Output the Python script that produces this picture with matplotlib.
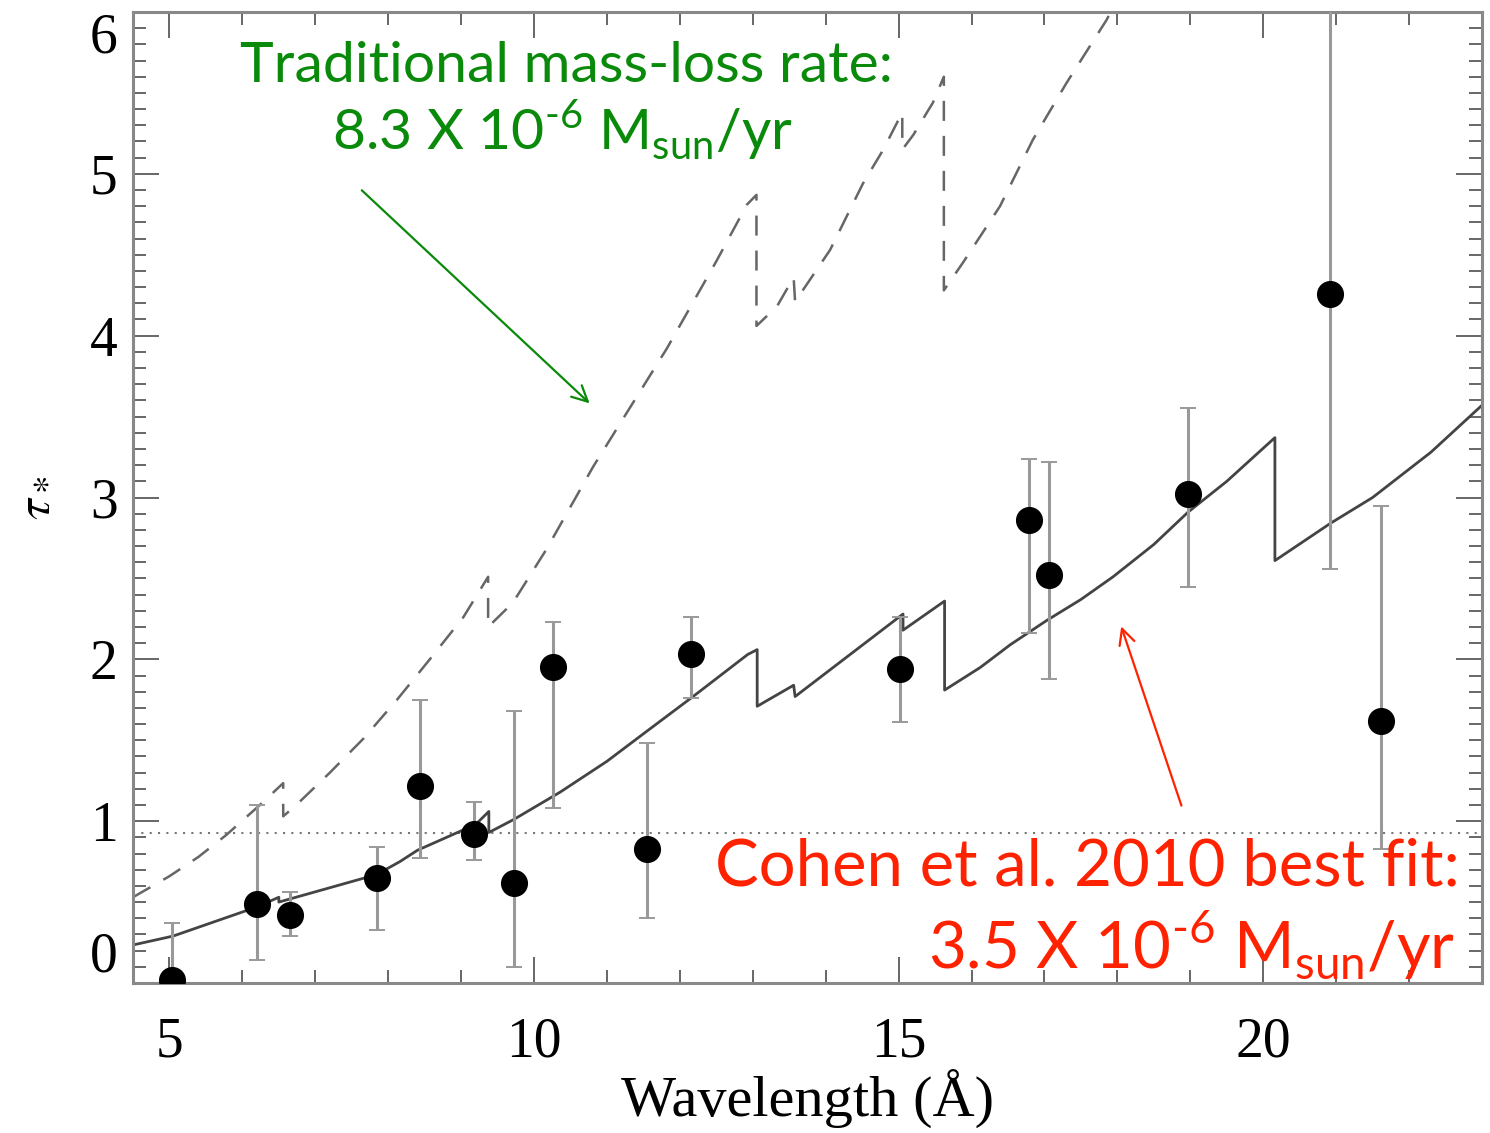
import matplotlib
matplotlib.use("Agg")
import matplotlib.pyplot as plt
from matplotlib.ticker import MultipleLocator

plt.rcParams["mathtext.fontset"] = "custom"
plt.rcParams["mathtext.rm"] = "Lato"

# -------------------------
# Data
# -------------------------
# measured line optical depths with (asymmetric) error bars
wave = [5.03, 6.20, 6.65, 7.85, 8.43, 9.18, 9.72, 10.26, 11.55, 12.15,
        15.02, 16.79, 17.06, 18.97, 20.92, 21.61]
tau = [0.02, 0.49, 0.42, 0.65, 1.22, 0.92, 0.62, 1.95, 0.83, 2.03,
       1.94, 2.86, 2.52, 3.02, 4.26, 1.62]
tau_upper = [0.37, 1.10, 0.56, 0.84, 1.75, 1.12, 1.68, 2.23, 1.48, 2.26,
             2.26, 3.24, 3.22, 3.55, 6.60, 2.95]
tau_lower = [-0.30, 0.14, 0.29, 0.33, 0.77, 0.76, 0.10, 1.08, 0.40, 1.76,
             1.61, 2.16, 1.88, 2.45, 2.56, 0.83]

# best-fit model (solid), repeated x = absorption edge
model_wave = [4.5, 5.05, 6.2, 6.5, 6.5, 7.84, 8.16, 8.4, 9.2, 9.38, 9.38,
              9.72, 10.36, 11.0, 11.5, 12.18, 12.93, 13.06, 13.06, 13.56,
              13.58, 15.06, 15.06, 15.63, 15.63, 16.12, 16.53, 17.03, 17.5,
              17.94, 18.5, 18.97, 19.5, 20.16, 20.16, 20.92, 21.5, 22.3, 23.0]
model_tau = [0.235, 0.29, 0.47, 0.53, 0.50, 0.67, 0.75, 0.82, 0.98, 1.06, 0.93,
             1.01, 1.18, 1.37, 1.54, 1.77, 2.03, 2.06, 1.71, 1.84,
             1.77, 2.28, 2.18, 2.36, 1.81, 1.95, 2.09, 2.24, 2.37,
             2.51, 2.71, 2.91, 3.10, 3.37, 2.61, 2.84, 3.00, 3.28, 3.57]

# traditional mass-loss rate model (dashed)
trad_wave = [4.5, 5.0, 5.4, 5.78, 6.24, 6.56, 6.56, 6.74, 7.2, 7.66, 8.12, 8.57,
             9.03, 9.37, 9.37, 9.71, 10.17, 10.81, 11.82, 12.5, 12.92, 13.05,
             13.05, 13.33, 13.56, 13.58, 14.06, 14.51, 14.79, 15.05, 15.05,
             15.2, 15.47, 15.62, 15.62, 15.88, 16.39, 16.84, 17.3, 17.85, 18.0]
trad_tau = [0.53, 0.66, 0.78, 0.915, 1.10, 1.235, 1.03, 1.10, 1.30, 1.51, 1.75, 2.00,
            2.26, 2.51, 2.20, 2.35, 2.68, 3.19, 3.92, 4.46, 4.81, 4.87,
            4.06, 4.18, 4.36, 4.21, 4.53, 4.94, 5.15, 5.38, 5.15,
            5.24, 5.44, 5.60, 4.28, 4.45, 4.80, 5.21, 5.56, 5.95, 6.08]

tau_one = 0.925
x_ticks = [5, 10, 15, 20]
y_ticks = [0, 1, 2, 3, 4, 5, 6]

# -------------------------
# Figure
# -------------------------
W, H = 1490, 1133
fig = plt.figure(figsize=(W / 100, H / 100), dpi=100)
ax = fig.add_axes([133 / W, 1 - 983 / H, (1482 - 133) / W, (983 - 12) / H])

serif = "Liberation Serif"
sans = "Lato"

ax.axhline(tau_one, color="#777777", linestyle=(0, (1, 3)), linewidth=1.5, zorder=1)
ax.plot(model_wave, model_tau, color="#444444", linewidth=2.0, zorder=2)
ax.plot(trad_wave, trad_tau, color="#666666", linewidth=1.8,
        linestyle=(0, (8, 6)), zorder=2)

yerr = [[t - lo for t, lo in zip(tau, tau_lower)],
        [hi - t for t, hi in zip(tau, tau_upper)]]
ax.errorbar(wave, tau, yerr=yerr, fmt="o", color="black", markersize=18.5,
            ecolor="#999999", elinewidth=2.2, capsize=6, capthick=1.4, zorder=3)

ax.set_xlim(4.5, 23.0)
ax.set_ylim(0, 6)
ax.set_xticks(x_ticks)
ax.set_yticks(y_ticks)
ax.xaxis.set_minor_locator(MultipleLocator(1))
ax.yaxis.set_minor_locator(MultipleLocator(0.1))
ax.tick_params(which="both", direction="in", top=True, right=True,
               color="#666666", width=1.4)
ax.tick_params(which="major", length=19)
ax.tick_params(which="minor", length=9.5)
ax.tick_params(axis="x", which="major", pad=24, labelsize=40)
ax.tick_params(axis="y", which="major", pad=11, labelsize=40)
for lab in ax.get_xticklabels() + ax.get_yticklabels():
    lab.set_fontfamily(serif)
# keep the end labels inside the frame like the original
ylabs = ax.get_yticklabels()
ylabs[0].set_verticalalignment("bottom")
ylabs[-1].set_verticalalignment("top")
for sp in ax.spines.values():
    sp.set_color("#888888")
    sp.set_linewidth(2.2)

ax.set_xlabel("Wavelength (Å)", fontsize=42, fontfamily=serif, labelpad=0)
ax.set_ylabel(r"$\tau_*$", fontsize=38, fontfamily=serif, math_fontfamily="stix",
              labelpad=24)

# -------------------------
# Annotations
# -------------------------
green = "#0a8a0a"
red = "#ff2200"
fig.text(566 / W, 1 - 82 / H, "Traditional mass-loss rate:", color=green,
         fontsize=41, fontfamily=sans, ha="center", va="baseline")
fig.text(562 / W, 1 - 150 / H, r"8.3 X 10$^{\text{-6}}$ M$_{\text{sun}}$/yr",
         color=green, fontsize=41, fontfamily=sans, ha="center", va="baseline")
ax.annotate("", xy=(10.79, 3.57), xytext=(7.61, 4.91),
            arrowprops=dict(arrowstyle="->", color=green, lw=1.6,
                            mutation_scale=28))

fig.text(1460 / W, 1 - 885 / H, "Cohen et al. 2010 best fit:", color=red,
         fontsize=47, fontfamily=sans, ha="right", va="baseline")
fig.text(1455 / W, 1 - 968 / H, r"3.5 X 10$^{\text{-6}}$ M$_{\text{sun}}$/yr",
         color=red, fontsize=47, fontfamily=sans, ha="right", va="baseline")
ax.annotate("", xy=(18.04, 2.22), xytext=(18.89, 1.08),
            arrowprops=dict(arrowstyle="->", color=red, lw=1.6,
                            mutation_scale=28))

fig.savefig("out.png", dpi=100)
